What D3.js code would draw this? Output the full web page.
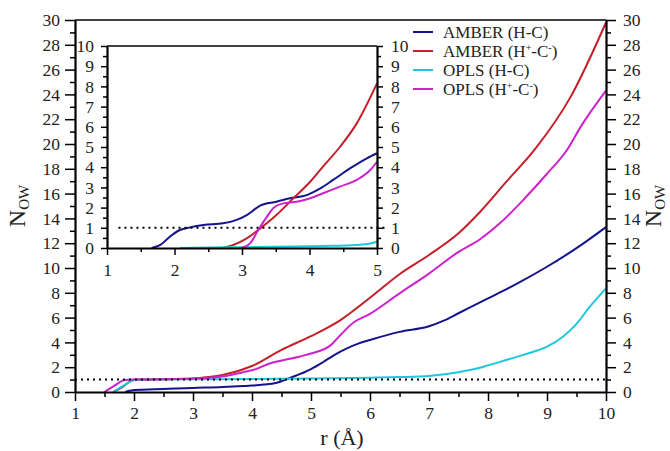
<!DOCTYPE html>
<html>
<head>
<meta charset="utf-8">
<script src="https://d3js.org/d3.v7.min.js"></script>
<style>
  body { margin: 0; background: #fff; }
  svg { display: block; font-family: "Liberation Serif", "Times New Roman", serif; }
  .axis path, .axis line { stroke: #000; }
  .axis text { font-size: 17.5px; fill: #222; font-family: "Liberation Serif", serif; }
</style>
</head>
<body>
<svg id="chart" width="670" height="451"></svg>
<script>
// main plot series: [r (Å), N_OW]
const amberHC = [[1.85,0],[1.95,0.12],[2.0,0.16],[2.5,0.25],[3.0,0.33],[3.5,0.4],[3.85,0.48],[4.0,0.52],
  [4.2,0.6],[4.4,0.72],[4.65,1.15],[5.0,1.85],[5.2,2.4],[5.4,3.0],[5.6,3.5],[5.8,3.9],[6.0,4.2],
  [6.5,4.85],[7.0,5.3],[7.25,5.75],[7.5,6.35],[8.0,7.55],[8.5,8.76],[9.0,10.1],[9.5,11.6],[10,13.3]];
const amberHpCm = [[1.65,0],[1.8,0.4],[1.95,0.9],[2.05,1.0],[2.5,1.02],[3.0,1.08],[3.2,1.18],[3.5,1.37],
  [4.0,2.1],[4.5,3.4],[5.0,4.5],[5.5,5.8],[6.0,7.6],[6.5,9.5],[7.0,11.05],[7.5,12.8],[7.86,14.5],
  [8.3,16.9],[8.8,19.6],[9.4,23.8],[10,29.8]];
const oplsHC = [[1.65,0],[1.8,0.45],[2.0,0.95],[2.2,1.0],[3.0,1.02],[4.0,1.05],[5.0,1.08],[6.0,1.15],
  [6.5,1.2],[7.0,1.3],[7.5,1.6],[7.86,1.95],[8.0,2.15],[8.5,2.85],[8.77,3.25],[9.0,3.66],[9.27,4.46],
  [9.5,5.5],[9.73,6.9],[10,8.36]];
const oplsHpCm = [[1.5,0],[1.65,0.45],[1.85,0.97],[2.0,1.0],[2.5,1.02],[3.0,1.08],[3.5,1.25],[3.85,1.6],
  [4.0,1.75],[4.3,2.3],[4.8,2.85],[5.0,3.1],[5.34,3.8],[5.5,4.6],[5.72,5.6],[6.0,6.3],[6.5,7.95],
  [7.0,9.55],[7.5,11.3],[7.86,12.3],[8.2,13.6],[8.6,15.5],[9.0,17.6],[9.35,19.6],[9.56,21.3],[10,24.3]];

// inset series (r from 1 to 5)
const insetAmberHC = [[1.66,0],[1.79,0.15],[1.93,0.56],[2.08,0.89],[2.23,1.02],[2.43,1.14],[2.72,1.22],
  [2.92,1.39],[3.07,1.63],[3.27,2.1],[3.51,2.29],[3.71,2.46],[3.96,2.62],[4.16,2.95],[4.35,3.37],
  [4.6,3.94],[4.85,4.44],[5.0,4.69]];
const insetAmberHpCm = [[2.7,0],[2.87,0.15],[3.07,0.48],[3.27,0.97],[3.51,1.63],[3.76,2.46],[4.01,3.28],
  [4.2,4.03],[4.45,5.0],[4.7,6.17],[5.0,8.15]];
const insetOplsHC = [[2.08,0],[2.5,0.02],[3.0,0.04],[3.71,0.07],[4.2,0.1],[4.7,0.15],[4.9,0.22],[5.0,0.31]];
const insetOplsHpCm = [[2.99,0],[3.12,0.23],[3.24,0.89],[3.37,1.55],[3.46,1.96],[3.61,2.21],[3.81,2.29],
  [4.01,2.46],[4.2,2.71],[4.45,3.04],[4.7,3.37],[4.9,3.86],[5.0,4.27]];

const seriesNames = ['AMBER (H-C)', 'AMBER (H+-C-)', 'OPLS (H-C)', 'OPLS (H+-C-)'];
const seriesColors = ['#14148c', '#c4202a', '#1ec8dc', '#cc22cc'];
const mainSeries = [amberHC, amberHpCm, oplsHC, oplsHpCm];
const insetSeries = [insetAmberHC, insetAmberHpCm, insetOplsHC, insetOplsHpCm];

const mainXTicks = d3.range(1, 11, 1);
const mainYTicks = d3.range(0, 31, 2);
const insetXTicks = d3.range(1, 6, 1);
const insetYTicks = d3.range(0, 11, 1);

const svg = d3.select('#chart');
const fmt = d3.format('d');

const x = d3.scaleLinear().domain([1, 10]).range([75, 606]);
const y = d3.scaleLinear().domain([0, 30]).range([392, 20]);
const ix = d3.scaleLinear().domain([1, 5]).range([107, 377]);
const iy = d3.scaleLinear().domain([0, 10]).range([248, 46]);

function drawLines(g, data, sx, sy) {
  const line = d3.line().x(d => sx(d[0])).y(d => sy(d[1])).curve(d3.curveMonotoneX);
  data.forEach((s, i) => {
    g.append('path').attr('d', line(s)).attr('fill', 'none')
      .attr('stroke', seriesColors[i]).attr('stroke-width', 2);
  });
}

function addAxis(g, axis, transform, minor) {
  const a = g.append('g').attr('class', 'axis').attr('transform', transform).call(axis);
  a.select('.domain').attr('stroke-width', minor ? 0 : 2.2);
  a.selectAll('line').attr('stroke-width', 1.5);
  return a;
}

// main plot
const main = svg.append('g');
drawLines(main, mainSeries, x, y);
main.append('line').attr('x1', x(1)).attr('x2', x(10)).attr('y1', y(1)).attr('y2', y(1))
  .attr('stroke', '#000').attr('stroke-width', 2).attr('stroke-dasharray', '2,4');
main.append('line').attr('x1', x(1)).attr('x2', x(10)).attr('y1', y(30)).attr('y2', y(30))
  .attr('stroke', '#000').attr('stroke-width', 1.5);

addAxis(main, d3.axisBottom(x).tickValues(d3.range(1.5, 10, 1)).tickSize(5).tickSizeOuter(0).tickFormat(''), `translate(0,${y(0)})`, true);
addAxis(main, d3.axisBottom(x).tickValues(mainXTicks).tickSize(9).tickPadding(6).tickSizeOuter(0).tickFormat(fmt), `translate(0,${y(0)})`);
addAxis(main, d3.axisLeft(y).tickValues(d3.range(1, 30, 2)).tickSize(5).tickSizeOuter(0).tickFormat(''), `translate(${x(1)},0)`, true);
addAxis(main, d3.axisLeft(y).tickValues(mainYTicks).tickSize(10).tickPadding(5).tickSizeOuter(0).tickFormat(fmt), `translate(${x(1)},0)`);
addAxis(main, d3.axisRight(y).tickValues(d3.range(1, 30, 2)).tickSize(5).tickSizeOuter(0).tickFormat(''), `translate(${x(10)},0)`, true);
addAxis(main, d3.axisRight(y).tickValues(mainYTicks).tickSize(10).tickPadding(7).tickSizeOuter(0).tickFormat(fmt), `translate(${x(10)},0)`);

// axis titles
function nowLabel(cx, cy) {
  const t = svg.append('text').attr('transform', `translate(${cx},${cy}) rotate(-90)`)
    .attr('text-anchor', 'middle').attr('font-size', 24).attr('fill', '#222');
  t.append('tspan').text('N');
  t.append('tspan').attr('font-size', 15).attr('dy', 4).text('OW');
}
nowLabel(25, 206);
nowLabel(661, 206);
svg.append('text').attr('x', 342).attr('y', 445).attr('text-anchor', 'middle')
  .attr('font-size', 22).attr('fill', '#222').text('r (Å)');

// inset
const inset = svg.append('g');
inset.append('rect').attr('x', ix(1)).attr('y', iy(10)).attr('width', ix(5) - ix(1))
  .attr('height', iy(0) - iy(10)).attr('fill', '#fff');
drawLines(inset, insetSeries, ix, iy);
inset.append('line').attr('x1', ix(1.17)).attr('x2', ix(5.16)).attr('y1', iy(1)).attr('y2', iy(1))
  .attr('stroke', '#000').attr('stroke-width', 2).attr('stroke-dasharray', '2,4');
inset.append('line').attr('x1', ix(1)).attr('x2', ix(5)).attr('y1', iy(10)).attr('y2', iy(10))
  .attr('stroke', '#000').attr('stroke-width', 1.5);

addAxis(inset, d3.axisBottom(ix).tickValues(d3.range(1.5, 5, 1)).tickSize(4).tickSizeOuter(0).tickFormat(''), `translate(0,${iy(0)})`, true);
addAxis(inset, d3.axisBottom(ix).tickValues(insetXTicks).tickSize(7).tickPadding(9).tickSizeOuter(0).tickFormat(fmt), `translate(0,${iy(0)})`);
addAxis(inset, d3.axisLeft(iy).tickValues(d3.range(0.5, 10, 1)).tickSize(4).tickSizeOuter(0).tickFormat(''), `translate(${ix(1)},0)`, true);
addAxis(inset, d3.axisLeft(iy).tickValues(insetYTicks).tickSize(6).tickPadding(7).tickSizeOuter(0).tickFormat(fmt), `translate(${ix(1)},0)`);
addAxis(inset, d3.axisRight(iy).tickValues(d3.range(0.5, 10, 1)).tickSize(4).tickSizeOuter(0).tickFormat(''), `translate(${ix(5)},0)`, true);
addAxis(inset, d3.axisRight(iy).tickValues(insetYTicks).tickSize(6).tickPadding(8).tickSizeOuter(0).tickFormat(fmt), `translate(${ix(5)},0)`);

// legend
const legend = svg.append('g');
seriesNames.forEach((name, i) => {
  const ly = 32 + i * 19;
  legend.append('line').attr('x1', 413).attr('x2', 433).attr('y1', ly).attr('y2', ly)
    .attr('stroke', seriesColors[i]).attr('stroke-width', 2);
  const t = legend.append('text').attr('x', 443).attr('y', ly + 5.5).attr('font-size', 17).attr('fill', '#222');
  const m = name.match(/^(.*\(H)\+(-C)-(\))$/);
  if (m) {
    t.append('tspan').text(m[1]);
    t.append('tspan').attr('font-size', 10).attr('dy', -6).text('+');
    t.append('tspan').attr('dy', 6).text(m[2]);
    t.append('tspan').attr('font-size', 10).attr('dy', -6).text('-');
    t.append('tspan').attr('dy', 6).text(m[3]);
  } else {
    t.text(name);
  }
});
</script>
</body>
</html>
